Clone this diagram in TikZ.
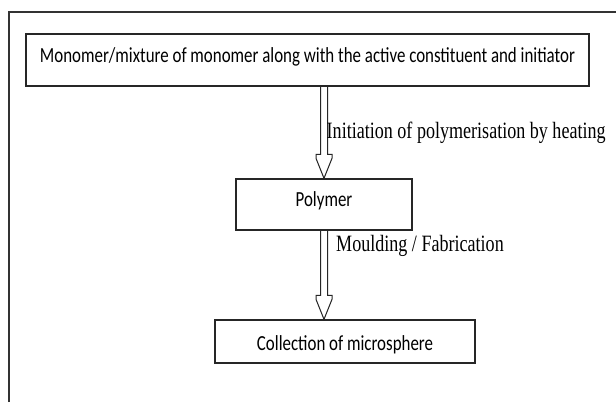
\documentclass[tikz,border=0pt]{standalone}
\usepackage{fontspec}
\newfontfamily\labelfont[FakeStretch=0.772]{Liberation Serif}
\newfontfamily\boxfont[FakeStretch=0.786]{Carlito}
\usetikzlibrary{calc}

% open block arrow drawn from #1 (top of shaft) down to #2 (tip)
\newcommand\hollowarrow[2]{%
  \draw[flow] let \p1=#1, \p2=#2 in
    (\x2-3.5pt,\y1) -- (\x2-3.5pt,\y2+24pt) -- (\x2-8pt,\y2+24pt)
    -- (\x2-8pt,\y2+20pt) -- (\x2,\y2) -- (\x2+8pt,\y2+20pt)
    -- (\x2+8pt,\y2+24pt) -- (\x2+3.5pt,\y2+24pt) -- (\x2+3.5pt,\y1);}

\begin{document}
\begin{tikzpicture}[x=1pt,y=-1pt,
  stepbox/.style={draw=black!85, line width=1.4pt, rectangle, inner sep=0pt,
    font=\boxfont\fontsize{21.5}{24}\selectfont},
  steplabel/.style={anchor=base west, inner sep=0pt,
    font=\labelfont\fontsize{23.4}{26}\selectfont},
  flow/.style={draw=black!85, line width=1pt, line join=miter}]
\useasboundingbox (0,0) rectangle (616,402);
\fill[white] (0,0) rectangle (616,402);

% page frame
\draw[line width=1.3pt, black!80] (9,402) -- (9,12) -- (616,12);

% process steps
\node[stepbox, minimum width=563pt, minimum height=52pt,
      text height=14pt, text depth=10pt] (mono) at (307.5,60)
  {Monomer/mixture of monomer along with the active constituent and initiator};
\node[stepbox, minimum width=176pt, minimum height=51pt,
      text height=14pt, text depth=10pt] (poly) at (324,204.5)
  {Polymer};
\node[stepbox, minimum width=260pt, minimum height=43pt,
      text height=17pt, text depth=0pt] (coll) at (345,341.5)
  {Collection of microsphere};

% transitions
\hollowarrow{(poly.north |- mono.south)}{(poly.north)}
\hollowarrow{(poly.south)}{(poly.south |- coll.north)}

\node[steplabel] (heat) at (326.5,138.3) {Initiation of polymerisation by heating};
\node[steplabel] (mould) at (336,251.7) {Moulding / Fabrication};
\end{tikzpicture}
\end{document}
